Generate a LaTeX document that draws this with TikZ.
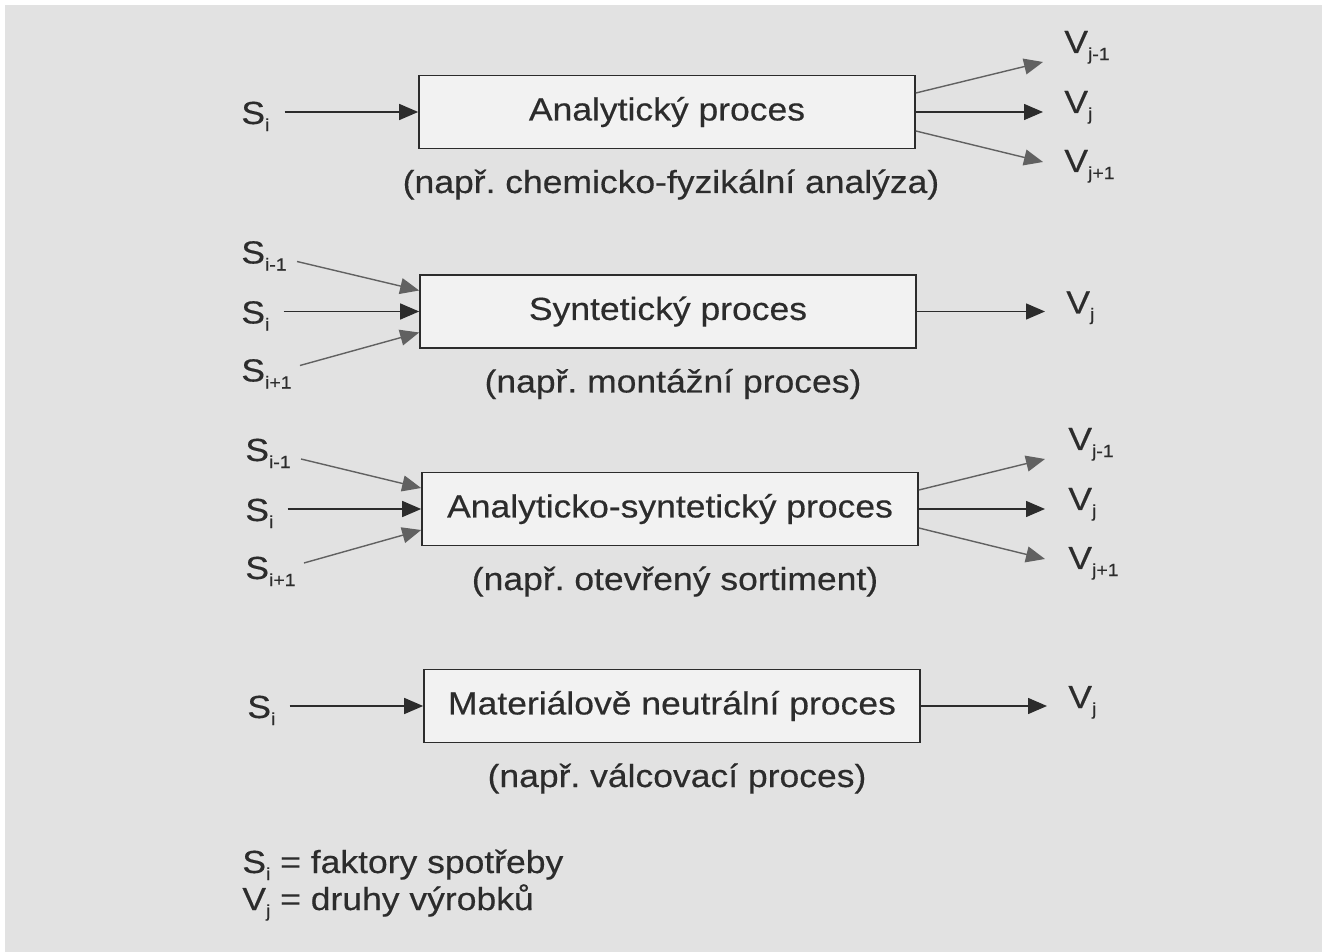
\documentclass[tikz,border=0pt]{standalone}
\usepackage{fontspec}
\setmainfont{Liberation Sans}[FakeStretch=1.11, FakeBold=0.4]
\usetikzlibrary{arrows.meta, calc}
\definecolor{paper}{HTML}{E2E2E2}
\definecolor{boxfill}{HTML}{F2F2F2}
\definecolor{ink}{HTML}{2C2C2C}
\newcommand{\lo}[1]{\raisebox{-4pt}{\fontsize{10}{11}\selectfont #1}}
\frenchspacing

\begin{document}
\begin{tikzpicture}[x=0.02cm, y=-0.02cm, >={Triangle[length=0.38cm,width=0.32cm]},
  proc/.style={draw=ink, fill=boxfill, line width=1pt, minimum width=9.92cm, minimum height=1.46cm, inner sep=0pt},
  txt/.style={font=\fontsize{18.2}{22}\selectfont, text=ink},
  lab/.style={txt, anchor=base west, inner sep=0pt},
  eg/.style={txt, anchor=base},
  flow/.style={->, draw=ink, line width=0.8pt},
  side/.style={flow, draw=ink!75}]
\useasboundingbox (0,0) rectangle (1322,952);
\fill[white] (0,0) rectangle (1322,952);
\fill[paper] (5,5) rectangle (1322,952);

% analyticky proces
\node[proc, txt] (ana) at (667,112) {Analytický proces};
\node[eg] (anaeg) at (671,193) {(např. chemicko-fyzikální analýza)};
\node[lab] (s1) at (241,124) {S\lo{i}};
\node[lab] (v1a) at (1064,53) {V\lo{j-1}};
\node[lab] (v1b) at (1064,113) {V\lo{j}};
\node[lab] (v1c) at (1064,172) {V\lo{j+1}};
\draw[flow] ($(s1.base east)+(15,-12)$) -- (ana.west);
\draw[side] ($(ana.east)+(0,-19)$) -- ($(v1a.base west)+(-21,9)$);
\draw[flow] (ana.east) -- ($(v1b.base west)+(-21,-1)$);
\draw[side] ($(ana.east)+(0,19)$) -- ($(v1c.base west)+(-21,-10)$);

% synteticky proces
\node[proc, txt] (syn) at (668,311.5) {Syntetický proces};
\node[eg] (syneg) at (673,392.5) {(např. montážní proces)};
\node[lab] (s2a) at (241,263.5) {S\lo{i-1}};
\node[lab] (s2b) at (241,323.5) {S\lo{i}};
\node[lab] (s2c) at (241,381.5) {S\lo{i+1}};
\node[lab] (v2) at (1066,313.5) {V\lo{j}};
\draw[side] ($(s2a.base east)+(10,-2)$) -- ($(syn.west)+(0,-21)$);
\draw[flow] ($(s2b.base east)+(14,-12)$) -- (syn.west);
\draw[side] ($(s2c.base east)+(8,-16)$) -- ($(syn.west)+(0,21)$);
\draw[flow] (syn.east) -- ($(v2.base west)+(-21,-2)$);

% analyticko-synteticky proces
\node[proc, txt] (ansyn) at (670,509) {Analyticko-syntetický proces};
\node[eg] (ansyneg) at (675,590) {(např. otevřený sortiment)};
\node[lab] (s3a) at (245,461) {S\lo{i-1}};
\node[lab] (s3b) at (245,521) {S\lo{i}};
\node[lab] (s3c) at (245,579) {S\lo{i+1}};
\node[lab] (v3a) at (1068,450) {V\lo{j-1}};
\node[lab] (v3b) at (1068,510) {V\lo{j}};
\node[lab] (v3c) at (1068,569) {V\lo{j+1}};
\draw[side] ($(s3a.base east)+(10,-2)$) -- ($(ansyn.west)+(0,-21)$);
\draw[flow] ($(s3b.base east)+(14,-12)$) -- (ansyn.west);
\draw[side] ($(s3c.base east)+(8,-16)$) -- ($(ansyn.west)+(0,21)$);
\draw[side] ($(ansyn.east)+(0,-19)$) -- ($(v3a.base west)+(-23,9)$);
\draw[flow] (ansyn.east) -- ($(v3b.base west)+(-23,-1)$);
\draw[side] ($(ansyn.east)+(0,19)$) -- ($(v3c.base west)+(-23,-10)$);

% materialove neutralni proces
\node[proc, txt] (neut) at (672,706) {Materiálově neutrální proces};
\node[eg] (neuteg) at (677,787) {(např. válcovací proces)};
\node[lab] (s4) at (247,718) {S\lo{i}};
\node[lab] (v4) at (1068,708) {V\lo{j}};
\draw[flow] ($(s4.base east)+(14,-12)$) -- (neut.west);
\draw[flow] (neut.east) -- ($(v4.base west)+(-21,-2)$);

% legenda
\node[lab] (legs) at (242,873) {S\lo{i} = faktory spotřeby};
\node[lab] (legv) at (242,910) {V\lo{j} = druhy výrobků};
\end{tikzpicture}
\end{document}
